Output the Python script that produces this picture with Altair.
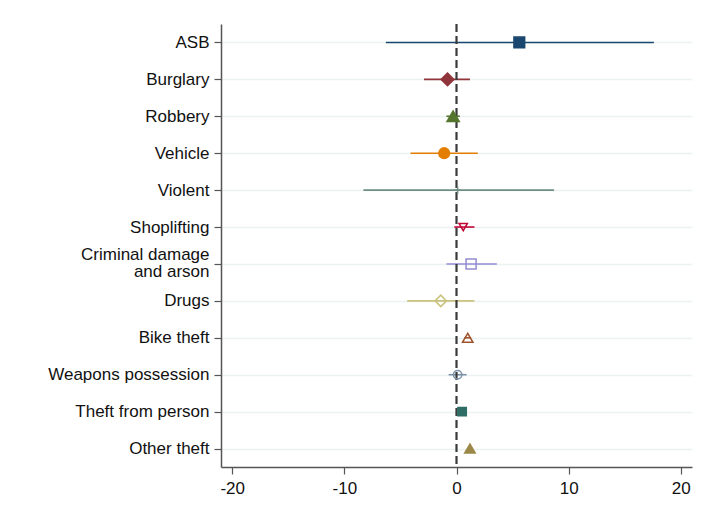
import altair as alt
import pandas as pd

# ---- data ----
categories = ["ASB", "Burglary", "Robbery", "Vehicle", "Violent", "Shoplifting",
              "Criminal damage and arson", "Drugs", "Bike theft",
              "Weapons possession", "Theft from person", "Other theft"]
estimates = [5.6, -0.8, -0.3, -1.1, 0.1, 0.6, 1.3, -1.4, 1.0, 0.1, 0.5, 1.2]
ci_low = [-6.3, -2.9, -0.9, -4.1, -8.3, -0.2, -0.9, -4.4, 0.7, -0.7, 0.3, 1.0]
ci_high = [17.6, 1.2, 0.3, 1.9, 8.7, 1.6, 3.6, 1.6, 1.3, 0.9, 0.7, 1.4]
x_ticks = [-20, -10, 0, 10, 20]

# ---- styles ----
colors = ["#1a476f", "#90353b", "#55752f", "#e37e00", "#6e8e84", "#c10534",
          "#938dd2", "#cac27e", "#a0522d", "#7b92a8", "#2d6d66", "#9c8847"]
shapes = ["square", "diamond", "triangle-up", "circle", "M-1,0L1,0M0,-1L0,1",
          "triangle-down", "square", "diamond", "triangle-up", "circle",
          "square", "triangle-up"]
sizes = [115, 160, 150, 115, 50, 70, 100, 130, 110, 70, 70, 110]
hollow = ["Violent", "Shoplifting", "Criminal damage and arson", "Drugs",
          "Bike theft", "Weapons possession"]

df = pd.DataFrame({"cat": categories, "est": estimates, "lo": ci_low, "hi": ci_high})

two_line = "Criminal damage and arson"
xscale = alt.Scale(domain=[-21, 21], nice=False, zero=False)
yenc = alt.Y("cat:N", sort=categories,
             scale=alt.Scale(type="point", padding=0.5),
             axis=alt.Axis(title=None, grid=True, gridColor="#eaf2f3", gridWidth=1.5,
                           labelExpr=f"datum.value == '{two_line}' ? ['Criminal damage', 'and arson'] : datum.label",
                           labelOffset={"condition": {"test": f"datum.value == '{two_line}'", "value": -9},
                                        "value": 0},
                           labelLineHeight=17, labelPadding=5))
cscale = alt.Scale(domain=categories, range=colors)

base = alt.Chart(df)

rules = base.mark_rule(strokeWidth=1.6).encode(
    x=alt.X("lo:Q", scale=xscale,
            axis=alt.Axis(values=x_ticks, grid=False, title=None, labelPadding=6,
                          labelExpr="toString(datum.value)")),
    x2="hi:Q",
    y=yenc,
    color=alt.Color("cat:N", scale=cscale, legend=None),
)

zero = alt.Chart(pd.DataFrame({"z": [0]})).mark_rule(
    strokeDash=[8, 4], strokeWidth=2.2, color="#3a3a3a"
).encode(x=alt.X("z:Q", scale=xscale))

points = base.mark_point(strokeWidth=1.5, opacity=1).encode(
    x=alt.X("est:Q", scale=xscale),
    y=yenc,
    shape=alt.Shape("cat:N", scale=alt.Scale(domain=categories, range=shapes), legend=None),
    fill=alt.Fill("cat:N", scale=cscale, legend=None),
    stroke=alt.Stroke("cat:N", scale=cscale, legend=None),
    fillOpacity=alt.condition(alt.FieldOneOfPredicate(field="cat", oneOf=hollow),
                              alt.value(0), alt.value(1)),
    size=alt.Size("cat:N",
                  scale=alt.Scale(type="ordinal", domain=categories, range=sizes), legend=None),
)

chart = alt.layer(rules, zero, points).properties(
    width=471, height=443, background="white",
    padding={"left": 39, "top": 14, "right": 5, "bottom": 5},
).configure_view(stroke=None).configure_axis(
    domainColor="#555555", domainWidth=1.5, tickColor="#555555", tickWidth=1.2,
    tickSize=7, labelColor="#111111", labelFont="Liberation Sans", labelFontSize=17,
)

chart.save("out.html", embed_options={"renderer": "svg", "actions": False})
